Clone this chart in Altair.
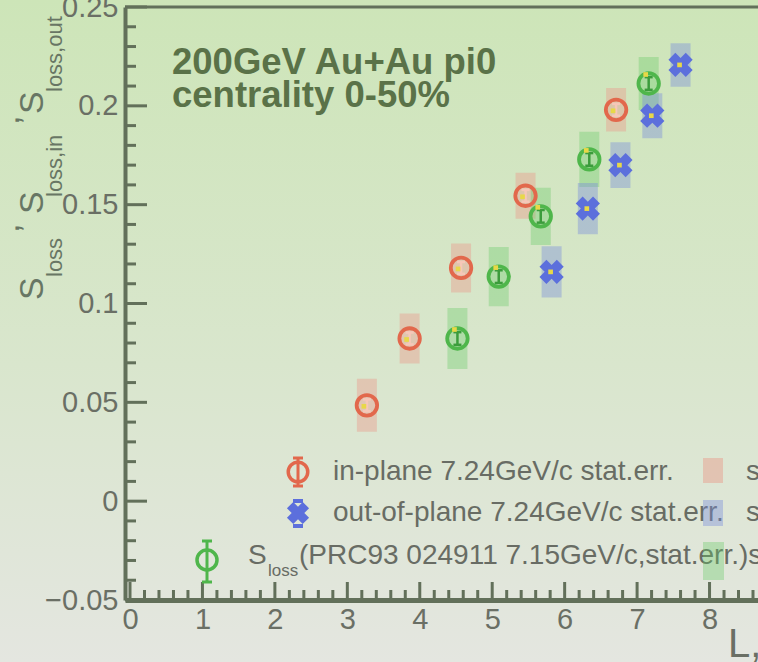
import altair as alt
import pandas as pd

# ---------------- data ----------------
in_L = [3.27, 3.86, 4.57, 5.46, 6.71]
in_S = [0.0485, 0.0823, 0.1180, 0.1545, 0.1980]
in_sys = [0.0134, 0.0126, 0.0124, 0.0116, 0.0110]
in_stat = [0.0030, 0.0030, 0.0030, 0.0030, 0.0030]

out_L = [5.82, 6.32, 6.77, 7.21, 7.60]
out_S = [0.1160, 0.1480, 0.1700, 0.1950, 0.2207]
out_sys = [0.0130, 0.0130, 0.0116, 0.0114, 0.0110]
out_stat = [0.0030, 0.0030, 0.0030, 0.0030, 0.0030]

prc_L = [4.52, 5.09, 5.67, 6.34, 7.16]
prc_S = [0.0823, 0.1136, 0.1441, 0.1729, 0.2113]
prc_sys = [0.0154, 0.0150, 0.0145, 0.0140, 0.0134]
prc_stat = [0.0032, 0.0032, 0.0032, 0.0032, 0.0032]

x_major = [0, 1, 2, 3, 4, 5, 6, 7, 8]
x_minor = [round(i * 0.2, 2) for i in range(0, 44) if i % 5 != 0]
y_major = [-0.05, 0.0, 0.05, 0.10, 0.15, 0.20, 0.25]
y_minor = [round(-0.05 + i * 0.01, 3) for i in range(0, 31) if i % 5 != 0]

title_lines = ["200GeV Au+Au pi0", "centrality 0-50%"]
leg_in = "in-plane 7.24GeV/c stat.err."
leg_out = "out-of-plane 7.24GeV/c stat.err."
leg_prc = "(PRC93 024911 7.15GeV/c,stat.err.)sys.err."
leg_sys = "sys.err."
x_title = "L, fm"

# ---------------- styling ----------------
F = "Liberation Sans"
W, H = 633, 593
OX, OY = 125, 7
RED, GREEN, BLUE = "#e2684c", "#4fb64b", "#5c6fdc"
AXC = "#62705a"
LAB = "#6a6f65"
TITLE = "#5a7248"
YT = "#687664"
LEGT = "#686c64"
TICKFS = 29

XS = alt.Scale(domain=[0, 8.6], nice=False, zero=False)
YS = alt.Scale(domain=[-0.05, 0.25], nice=False, zero=False)
XAX = alt.Axis(values=x_major, format="d", title=None, ticks=False, grid=False,
               domain=True, domainWidth=5, domainColor=AXC, labelFont=F,
               labelFontSize=TICKFS, labelColor=LAB, labelPadding=5,
               labelFlush=False, labelOverlap=False, zindex=1)
YAX = alt.Axis(values=y_major, format="~g", title=None, ticks=False, grid=False,
               domain=True, domainWidth=4, domainColor=AXC, labelFont=F,
               labelFontSize=TICKFS, labelColor=LAB, labelPadding=7,
               labelFlush=False, labelOverlap=False, zindex=1)


def X(f):
    return alt.X(f, type="quantitative", scale=XS, axis=XAX)


def Y(f):
    return alt.Y(f, type="quantitative", scale=YS, axis=YAX)


def frame(L, S, sys, stat):
    d = pd.DataFrame({"L": L, "S": S, "sys": sys, "stat": stat})
    d["slo"] = d.S - d.sys
    d["shi"] = d.S + d.sys
    d["tlo"] = d.S - d.stat
    d["thi"] = d.S + d.stat
    return d


d_in = frame(in_L, in_S, in_sys, in_stat)
d_out = frame(out_L, out_S, out_sys, out_stat)
d_prc = frame(prc_L, prc_S, prc_sys, prc_stat)
one = pd.DataFrame({"a": [0]})


def px(v):
    return alt.value(v - OX)


def py(v):
    return alt.value(v - OY)


def txt(s, x, y, size, color, align="left", baseline="middle", angle=None, weight="normal"):
    kw = dict(text=s, align=align, baseline=baseline, fontSize=size, font=F,
              fontWeight=weight, color=color)
    if angle is not None:
        kw["angle"] = angle
    return alt.Chart(one).mark_text(**kw).encode(x=px(x), y=py(y))


def rect(x1, x2, y1, y2, color, opacity=1.0):
    return alt.Chart(one).mark_rect(color=color, opacity=opacity).encode(
        x=px(x1), x2=px(x2), y=py(y1), y2=py(y2))


layers = []

# background gradient
grad = alt.LinearGradient(gradient="linear",
                          stops=[alt.GradientStop(color="#cde5b8", offset=0),
                                 alt.GradientStop(color="#d9e6cd", offset=0.55),
                                 alt.GradientStop(color="#e4e6e0", offset=1)],
                          x1=0, x2=0, y1=0, y2=1)
layers.append(alt.Chart(one).mark_rect(fill=grad).encode(
    x=alt.value(-OX), x2=alt.value(W), y=alt.value(-OY), y2=alt.value(H + 62)))

# ticks (inside the frame)
ymaj = pd.DataFrame({"v": y_major})
ymin = pd.DataFrame({"v": y_minor})
xmaj = pd.DataFrame({"v": x_major})
xmin = pd.DataFrame({"v": x_minor})
layers.append(alt.Chart(ymaj).mark_rule(color=AXC, strokeWidth=3).encode(
    y=Y("v"), x=alt.value(0), x2=alt.value(22)))
layers.append(alt.Chart(ymin).mark_rule(color=AXC, strokeWidth=3).encode(
    y=Y("v"), x=alt.value(0), x2=alt.value(11)))
layers.append(alt.Chart(xmaj).mark_rule(color=AXC, strokeWidth=3).encode(
    x=X("v"), y=alt.value(H - 2), y2=alt.value(H - 18)))
layers.append(alt.Chart(xmin).mark_rule(color=AXC, strokeWidth=3).encode(
    x=X("v"), y=alt.value(H - 2), y2=alt.value(H - 10)))
# top frame line
layers.append(alt.Chart(one).mark_rule(color=AXC, strokeWidth=3).encode(
    y=alt.value(0), x=alt.value(0), x2=alt.value(W)))

# systematic boxes
for d, c, op in [(d_in, "#e8a090", 0.45), (d_prc, "#64c864", 0.35), (d_out, "#788cdc", 0.4)]:
    layers.append(alt.Chart(d).mark_bar(size=20, color=c, opacity=op).encode(
        x=X("L"), y=Y("slo"), y2=alt.Y2("shi")))

# markers + stat errors
for d, c, statc in [(d_in, RED, "#f6c7b8"), (d_prc, GREEN, "#3c9c3c")]:
    layers.append(alt.Chart(d).mark_point(shape="circle", filled=False, size=420,
                                          strokeWidth=3.8, color=c, opacity=1).encode(
        x=X("L"), y=Y("S")))
    layers.append(alt.Chart(d).mark_rule(color=statc, strokeWidth=2.5).encode(
        x=X("L"), y=Y("tlo"), y2=alt.Y2("thi")))
    layers.append(alt.Chart(d).mark_tick(orient="horizontal", size=8, thickness=2.5,
                                         color=statc, opacity=1).encode(x=X("L"), y=Y("tlo")))
    layers.append(alt.Chart(d).mark_tick(orient="horizontal", size=8, thickness=2.5,
                                         color=statc, opacity=1).encode(x=X("L"), y=Y("thi")))
layers.append(alt.Chart(d_out).mark_point(shape="cross", filled=True, size=600, angle=45,
                                          color=BLUE, opacity=1).encode(x=X("L"), y=Y("S")))
# small yellow marks
for d, xo, yo in [(d_in, -3, 1), (d_prc, -3, -9), (d_out, -1, 0)]:
    layers.append(alt.Chart(d).mark_square(size=22, color="#e8d848", opacity=1,
                                           xOffset=xo, yOffset=yo).encode(x=X("L"), y=Y("S")))

# title text
layers.append(txt(title_lines[0], 172, 74, 36.5, TITLE, baseline="alphabetic", weight="bold"))
layers.append(txt(title_lines[1], 172, 107, 36.5, TITLE, baseline="alphabetic", weight="bold"))

# y-axis title (rotated pieces)
for s, x, y, size in [("S", 43, 300, 34), ("loss", 62, 277, 22), (",", 19, 233, 34),
                      ("S", 43, 214, 34), ("loss,in", 62, 197, 22), (",", 19, 125, 34),
                      ("S", 43, 114, 34), ("loss,out", 62, 92, 22)]:
    layers.append(txt(s, x, y, size, YT, baseline="alphabetic", angle=270))

# x-axis title
layers.append(txt(x_title, 728, 657, 40, LAB, baseline="alphabetic"))

# legend
layers.append(txt(leg_in, 333, 472, 28, LEGT))
layers.append(txt(leg_out, 333, 513, 28, LEGT))
layers.append(txt("S", 248, 556, 28, LEGT))
layers.append(txt("loss", 268, 571, 17, LEGT))
layers.append(txt(leg_prc, 299, 556, 28, LEGT))
layers.append(txt(leg_sys, 746, 472, 28, LEGT))
layers.append(txt(leg_sys, 746, 513, 28, LEGT))
layers.append(rect(703, 723, 458, 483, "#e8a090", 0.5))
layers.append(rect(703, 723, 500, 526, "#788cdc", 0.4))
layers.append(rect(703, 724, 542, 580, "#64c864", 0.35))


# legend markers
def vbar(x, y1, y2, color):
    return [alt.Chart(one).mark_rule(color=color, strokeWidth=3).encode(x=px(x), y=py(y1), y2=py(y2)),
            alt.Chart(one).mark_rule(color=color, strokeWidth=3).encode(x=px(x - 5), x2=px(x + 5), y=py(y1)),
            alt.Chart(one).mark_rule(color=color, strokeWidth=3).encode(x=px(x - 5), x2=px(x + 5), y=py(y2))]


layers += vbar(298, 458, 486, RED)
layers.append(alt.Chart(one).mark_point(shape="circle", filled=False, size=380, strokeWidth=3.5,
                                        color=RED, opacity=1).encode(x=px(298), y=py(472)))
layers.append(alt.Chart(one).mark_point(shape="cross", filled=True, size=500, angle=45,
                                        color=BLUE, opacity=1).encode(x=px(298), y=py(513)))
layers.append(rect(293, 303, 499, 503, BLUE))
layers.append(rect(293, 303, 524, 528, BLUE))
layers += vbar(207, 541, 582, GREEN)
layers.append(alt.Chart(one).mark_point(shape="circle", filled=False, size=400, strokeWidth=3.5,
                                        color=GREEN, opacity=1).encode(x=px(207), y=py(560)))

chart = alt.layer(*layers).properties(
    width=W, height=H,
    autosize=alt.AutoSizeParams(type="none"),
    padding={"left": OX, "top": OY, "right": 0, "bottom": 62},
    background="#dde6d4",
).configure_view(stroke=None)

chart.save("out.html", embed_options={"renderer": "svg", "actions": False})
